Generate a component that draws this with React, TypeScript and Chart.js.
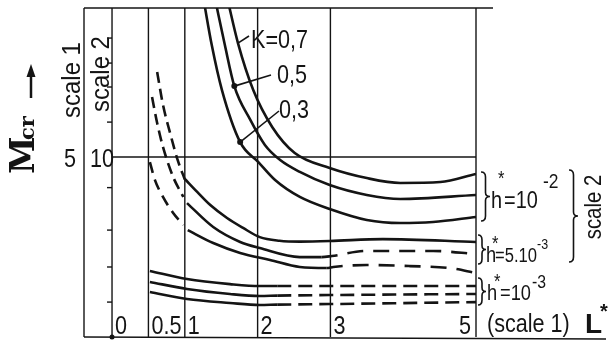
import React, { useEffect, useRef } from "react";
import { Chart, registerables } from "chart.js";
Chart.register(...registerables);

// ---- axes / grid (x = L*, scale 1; y = Mcr, scale 2) ----
const xGridLines = [0, 0.5, 1, 2, 3, 5];
const xTickLabels = ["0", "0.5", "1", "2", "3", "5"];
const yGridLine = 10;
const yTickMarks = [1.94, 3.89, 5.94, 8.3, 11.94, 13.89, 15.22, 16.61];

// ---- h* = 10^-2 ----
const h2K07 = [[1.59, 18.7], [1.73, 16.33], [1.94, 13.72], [2.2, 11.67], [2.51, 10.22], [2.99, 9.39], [3.5, 8.83], [3.96, 8.56], [4.51, 8.61], [5.0, 9.06]];
const h2K05 = [[1.42, 18.7], [1.55, 16.22], [1.68, 13.94], [1.9, 12.06], [2.1, 10.67], [2.31, 9.83], [2.58, 9.17], [2.99, 8.44], [3.5, 7.89], [3.96, 7.67], [5.0, 7.89]];
const h2K03 = [[1.26, 18.7], [1.37, 16.22], [1.51, 13.72], [1.76, 10.83], [2.01, 9.72], [2.24, 8.72], [2.58, 7.78], [2.99, 7.11], [3.5, 6.5], [3.96, 6.33], [4.41, 6.39], [5.0, 6.67]];

// ---- h* = 5·10^-3 (dashed for L* < 1) ----
const h53K07Left = [[0.62, 14.72], [0.7, 12.9], [0.8, 11.3], [0.9, 9.85], [1.0, 8.75]];
const h53K05Left = [[0.55, 13.33], [0.62, 11.89], [0.7, 10.56], [0.84, 8.89], [0.98, 7.78]];
const h53K03Left = [[0.52, 9.72], [0.59, 8.72], [0.7, 7.78], [0.84, 6.89], [0.98, 6.22]];
const h53K07 = [[1.0, 8.78], [1.17, 8.06], [1.35, 7.33], [1.58, 6.61], [1.8, 6.06], [2.03, 5.55], [2.3, 5.35], [2.58, 5.3], [2.99, 5.33], [3.72, 5.44], [5.0, 5.28]];
const h53K05 = [[1.03, 7.44], [1.39, 6.11], [1.76, 5.28], [2.03, 4.94], [2.58, 4.44], [2.88, 4.44], [3.02, 4.5], [3.5, 4.78], [3.96, 4.78], [4.41, 4.78], [5.0, 4.61]];
const h53K03 = [[1.04, 5.94], [1.39, 5.22], [1.76, 4.67], [2.17, 4.28], [2.58, 3.89], [2.95, 3.83], [3.04, 3.89], [3.5, 4.0], [4.09, 3.94], [4.64, 3.83], [5.0, 3.56]];

// ---- h* = 10^-3 ----
const h3K07 = [[0.52, 3.67], [1.03, 3.22], [1.62, 2.94], [2.03, 2.83], [2.27, 2.83], [2.99, 2.83], [5.0, 2.83]];
const h3K05 = [[0.52, 3.06], [1.03, 2.67], [1.62, 2.39], [2.03, 2.28], [2.27, 2.3], [2.99, 2.33], [5.0, 2.39]];
const h3K03 = [[0.52, 2.5], [1.03, 2.11], [1.62, 1.89], [2.03, 1.78], [2.27, 1.8], [2.99, 1.83], [5.0, 1.94]];

// dashed stretches (L* ranges)
const dashRightA = [[2.9, 5.1]];
const dashRightB = [[2.97, 5.1]];
const dashLow = [[2.25, 5.1]];

// markers on K = 0.5 and K = 0.3 curves
const dotK05 = [1.68, 13.94];
const dotK03 = [1.76, 10.83];
const leaderK07 = [1.73, 16.33];

const INK = "#141414";
const FONT = '"Liberation Sans", Arial, sans-serif';

const curves = [
  { pts: h2K07, whole: null, dash: [], pat: [] },
  { pts: h2K05, whole: null, dash: [], pat: [] },
  { pts: h2K03, whole: null, dash: [], pat: [] },
  { pts: h53K07Left, whole: [11, 6], dash: [], pat: [] },
  { pts: h53K05Left, whole: [11, 6], dash: [], pat: [] },
  { pts: h53K03Left, whole: [11, 7], dash: [], pat: [] },
  { pts: h53K07, whole: null, dash: [], pat: [] },
  { pts: h53K05, whole: null, dash: dashRightA, pat: [16, 10] },
  { pts: h53K03, whole: null, dash: dashRightB, pat: [16, 10] },
  { pts: h3K07, whole: null, dash: dashLow, pat: [14, 7] },
  { pts: h3K05, whole: null, dash: dashLow, pat: [14, 7] },
  { pts: h3K03, whole: null, dash: dashLow, pat: [14, 7] },
];

function brace(ctx: CanvasRenderingContext2D, x: number, y1: number, y2: number, w: number) {
  const ym = (y1 + y2) / 2;
  const xm = x + w / 2;
  ctx.beginPath();
  ctx.moveTo(x, y1);
  ctx.quadraticCurveTo(xm, y1, xm, y1 + 5);
  ctx.lineTo(xm, ym - 4);
  ctx.quadraticCurveTo(xm, ym, x + w, ym);
  ctx.quadraticCurveTo(xm, ym, xm, ym + 4);
  ctx.lineTo(xm, y2 - 5);
  ctx.quadraticCurveTo(xm, y2, x, y2);
  ctx.stroke();
}

function t(
  ctx: CanvasRenderingContext2D, s: string, x: number, y: number, size: number,
  align: CanvasTextAlign = "left", weight = "normal", sx = 0.83
) {
  ctx.save();
  ctx.translate(x, y);
  ctx.scale(sx, 1);
  ctx.font = `${weight} ${size}px ${FONT}`;
  ctx.textAlign = align;
  ctx.textBaseline = "alphabetic";
  ctx.fillText(s, 0, 0);
  ctx.restore();
}

function vtext(ctx: CanvasRenderingContext2D, s: string, cx: number, cy: number, size: number, sx = 0.85) {
  ctx.save();
  ctx.translate(cx, cy);
  ctx.rotate(-Math.PI / 2);
  ctx.scale(sx, 1);
  ctx.font = `${size}px ${FONT}`;
  ctx.textAlign = "center";
  ctx.textBaseline = "middle";
  ctx.fillText(s, 0, 0);
  ctx.restore();
}

const decor = {
  id: "decor",
  beforeDatasetsDraw(chart: any) {
    const { ctx, chartArea: a, scales } = chart;
    const xs = scales.x, ys = scales.y;
    const x0 = xs.getPixelForValue(0);
    ctx.save();
    ctx.strokeStyle = INK;
    ctx.lineWidth = 1.4;
    const ln = (x1: number, y1: number, x2: number, y2: number) => {
      ctx.beginPath(); ctx.moveTo(x1, y1); ctx.lineTo(x2, y2); ctx.stroke();
    };
    ln(a.left, a.top, a.left, a.bottom);
    ln(a.left, a.top, 493, a.top);
    ln(a.left, a.bottom, 606, a.bottom + 2);
    xGridLines.forEach((v) => {
      const p = xs.getPixelForValue(v);
      ln(p, a.top, p, a.bottom);
    });
    const y10 = ys.getPixelForValue(yGridLine);
    ln(x0, y10, a.right, y10);
    yTickMarks.forEach((v) => {
      const p = ys.getPixelForValue(v);
      ln(x0 - 5, p, x0, p);
    });
    ctx.fillStyle = INK;
    ctx.beginPath(); ctx.arc(x0, a.bottom, 2.5, 0, Math.PI * 2); ctx.fill();
    ctx.restore();
  },
  afterDatasetsDraw(chart: any) {
    const { ctx, chartArea: a, scales } = chart;
    const xs = scales.x, ys = scales.y;
    ctx.save();
    ctx.fillStyle = INK;
    ctx.strokeStyle = INK;

    // bottom tick labels
    xGridLines.forEach((v, i) => {
      const p = xs.getPixelForValue(v);
      if (v === 5) t(ctx, xTickLabels[i], p - 5, a.bottom - 3, 26, "right");
      else t(ctx, xTickLabels[i], p + 3, a.bottom - 3, 26, "left");
    });
    t(ctx, "(scale 1)", 487, 332, 26);
    t(ctx, "L", 585, 333, 28, "left", "bold", 1);
    t(ctx, "*", 600, 318, 20, "left", "bold", 1);

    // left labels
    const y10 = ys.getPixelForValue(yGridLine);
    t(ctx, "5", 70, y10 + 10, 26, "center");
    t(ctx, "10", 102, y10 + 10, 26, "center");
    vtext(ctx, "scale 1", 73, 80, 26, 0.92);
    vtext(ctx, "scale 2", 102, 74, 26, 0.92);

    // Mcr arrow label
    ctx.save();
    ctx.translate(34, 174);
    ctx.rotate(-Math.PI / 2);
    ctx.font = `bold 34px "DejaVu Serif", serif`;
    ctx.textAlign = "left";
    ctx.textBaseline = "alphabetic";
    ctx.fillText("M", 0, 0);
    ctx.font = `bold 21px "DejaVu Serif", serif`;
    ctx.fillText("cr", 34, 0);
    ctx.restore();
    ctx.lineWidth = 2.5;
    ctx.beginPath(); ctx.moveTo(31, 98); ctx.lineTo(31, 74); ctx.stroke();
    ctx.beginPath(); ctx.moveTo(31, 64); ctx.lineTo(26.5, 77); ctx.lineTo(35.5, 77); ctx.closePath(); ctx.fill();

    // K labels and leaders
    ctx.lineWidth = 1.6;
    const lead = (pt: number[], x2: number, y2: number) => {
      ctx.beginPath();
      ctx.moveTo(xs.getPixelForValue(pt[0]), ys.getPixelForValue(pt[1]));
      ctx.lineTo(x2, y2);
      ctx.stroke();
    };
    lead(leaderK07, 249, 36);
    lead(dotK05, 271, 75);
    lead(dotK03, 279, 111);
    t(ctx, "K=0,7", 251, 48, 26);
    t(ctx, "0,5", 277, 83, 26);
    t(ctx, "0,3", 279, 118, 26);

    // right-side labels
    ctx.lineWidth = 1.6;
    brace(ctx, 481, 172, 221, 9);
    t(ctx, "h", 491, 208, 24);
    t(ctx, "*", 498, 185, 20);
    t(ctx, "=10", 504, 208, 24);
    t(ctx, "-2", 543, 188, 21);
    brace(ctx, 569, 170, 262, 9);
    vtext(ctx, "scale 2", 594, 207, 24);

    brace(ctx, 478, 235, 264, 8);
    t(ctx, "h", 486, 262, 22);
    t(ctx, "*", 492, 250, 20);
    t(ctx, "=5.10", 495, 262, 20);
    t(ctx, "-3", 537, 249, 15);

    brace(ctx, 478, 278, 305, 8);
    t(ctx, "h", 487, 300, 22);
    t(ctx, "*", 494, 288, 20);
    t(ctx, "=10", 500, 300, 22);
    t(ctx, "-3", 532, 288, 19);

    ctx.restore();
  },
};

export default function App() {
  const ref = useRef<HTMLCanvasElement>(null);
  useEffect(() => {
    if (!ref.current) return;
    const datasets: any[] = curves.map((c) => {
      const ds: any = {
        data: c.pts.map(([x, y]) => ({ x, y })),
        showLine: true,
        borderColor: INK,
        borderWidth: 2.6,
        pointRadius: 0,
        fill: false,
        cubicInterpolationMode: "monotone",
      };
      if (c.whole) ds.borderDash = c.whole;
      if (c.dash.length) {
        ds.segment = {
          borderDash: (s: any) => {
            const m = (s.p0.parsed.x + s.p1.parsed.x) / 2;
            return c.dash.some(([lo, hi]) => m > lo && m < hi) ? c.pat : undefined;
          },
        };
      }
      return ds;
    });
    [dotK05, dotK03].forEach((d) =>
      datasets.push({
        data: [{ x: d[0], y: d[1] }],
        showLine: false,
        pointRadius: 3,
        pointBackgroundColor: INK,
        pointBorderColor: INK,
        borderWidth: 0,
      })
    );
    const chart = new Chart(ref.current, {
      type: "scatter",
      data: { datasets },
      options: {
        animation: false,
        responsive: false,
        devicePixelRatio: 1,
        layout: { padding: { left: 84, right: 132, top: 8, bottom: 6 } },
        scales: {
          x: { type: "linear", min: -0.385, max: 5, display: false },
          y: { type: "linear", min: 0, max: 18.28, display: false },
        },
        plugins: { legend: { display: false }, tooltip: { enabled: false } },
      },
      plugins: [decor],
    } as any);
    return () => chart.destroy();
  }, []);
  return (
    <div style={{ position: "fixed", left: 0, top: 0, width: 608, height: 343, background: "#fff" }}>
      <canvas ref={ref} width={608} height={343} />
    </div>
  );
}
